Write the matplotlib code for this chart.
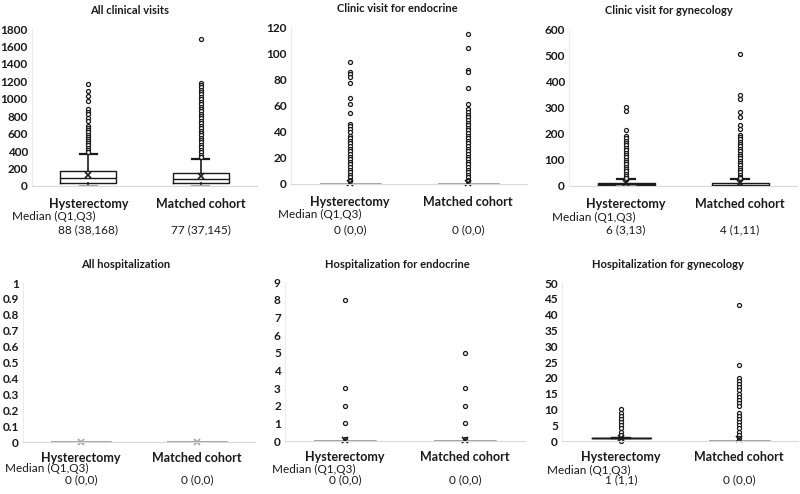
import matplotlib.pyplot as plt
from matplotlib import transforms

plt.rcParams['font.family'] = ['Lato', 'DejaVu Sans']

groups = ["Hysterectomy", "Matched cohort"]
titles = ["All clinical visits", "Clinic visit for endocrine", "Clinic visit for gynecology",
          "All hospitalization", "Hospitalization for endocrine", "Hospitalization for gynecology"]
median_text = [["88 (38,168)", "77 (37,145)"], ["0 (0,0)", "0 (0,0)"], ["6 (3,13)", "4 (1,11)"],
               ["0 (0,0)", "0 (0,0)"], ["0 (0,0)", "0 (0,0)"], ["1 (1,1)", "0 (0,0)"]]

# box statistics per panel: (hysterectomy, matched cohort)
q1 = [(38, 37), (0, 0), (3, 1), (0, 0), (0, 0), (1, 0)]
med = [(88, 77), (0, 0), (6, 4), (0, 0), (0, 0), (1, 0)]
q3 = [(168, 145), (0, 0), (13, 11), (0, 0), (0, 0), (1, 0)]
whislo = [(0, 0), (0, 0), (0, 0), (0, 0), (0, 0), (1, 0)]
whishi = [(363, 306), (0, 0), (28, 27), (0, 0), (0, 0), (1, 0)]
means = [(122, 115), (0.6, 0.6), (12, 11), (0, 0), (0.05, 0.05), (1.1, 0.5)]

fliers_clin_h = [1170, 1090, 1030, 975, 880, 850, 820, 785, 740, 690, 665, 640, 615, 590,
                 565, 540, 515, 490, 465, 440, 415, 390]
fliers_clin_m = [1690, 1180, 1155, 1130, 1105, 1080, 1050, 1020, 995, 965, 940, 910, 885, 855,
                 830, 800, 775, 745, 720, 690, 665, 635, 610, 580, 555, 525, 500, 470, 445,
                 415, 390, 360, 335]
fliers_endo_h = [93, 85.5, 84, 81.5, 77.5, 65.5, 61.5, 54, 46, 44, 42, 40, 37, 35, 33, 31,
                 29, 27, 25, 23, 21, 19, 17, 15, 13, 11, 9, 7, 5, 3, 2]
fliers_endo_m = [115, 104, 87.5, 85.5, 73.5, 61.5, 57, 55, 53, 51, 49, 47, 45, 43, 41, 39,
                 37, 35, 33, 31, 29, 27, 25, 23, 21, 19, 17, 15, 13, 11, 9, 7, 5, 3, 2]
fliers_gyn_h = [300, 288, 214, 191, 182, 173, 164, 155, 146, 137, 128, 119, 110, 101, 92,
                83, 74, 65, 56, 47, 38, 31]
fliers_gyn_m = [505, 349, 333, 281, 263, 233, 218, 196, 187, 178, 169, 160, 151, 142, 133,
                124, 115, 106, 97, 88, 79, 70, 61, 52, 43, 35, 29]
fliers_hosp_h = []
fliers_hosp_m = []
fliers_hendo_h = [8, 3, 2, 1, 0.1]
fliers_hendo_m = [5, 3, 2, 1, 0.1]
fliers_hgyn_h = [10, 9, 8, 7, 6, 5, 4, 3, 2, 0]
fliers_hgyn_m = [43, 24, 20, 19, 18, 17, 16, 15, 14, 13, 12, 11, 9, 8, 7, 6, 5, 4, 3, 2, 1]
fliers = [(fliers_clin_h, fliers_clin_m), (fliers_endo_h, fliers_endo_m),
          (fliers_gyn_h, fliers_gyn_m), (fliers_hosp_h, fliers_hosp_m),
          (fliers_hendo_h, fliers_hendo_m), (fliers_hgyn_h, fliers_hgyn_m)]

ymax = [1800, 120, 600, 1, 9, 50]
ystep = [200, 20, 100, 0.1, 1, 5]

W, H = 800, 494
# axes boxes in pixels: left, top, right, bottom
rects = [(32, 29, 257, 186), (291, 27, 527, 184), (569, 29, 797, 186),
         (23, 283, 255, 442), (285, 282, 525, 441), (562, 283, 798, 441)]
title_xy = [(130, 10), (397, 9), (669, 10), (126, 264), (397, 265), (668, 265)]
median_lbl_x = [12, 278, 552, 5, 272, 547]
cat_pad = [9, 9, 9, 7, 7, 7]
med_y = [(216, 230), (214, 230), (217, 230), (468, 480), (469, 480), (470, 480)]

fig = plt.figure(figsize=(8, 4.94), dpi=100)
dark = '#1a1a1a'
grey = '#a6a6a6'

for i in range(6):
    l, t, r, b = rects[i]
    ax = fig.add_axes([l / W, 1 - b / H, (r - l) / W, (b - t) / H])
    stats = []
    for j in range(2):
        stats.append(dict(med=med[i][j], q1=q1[i][j], q3=q3[i][j], whislo=whislo[i][j],
                          whishi=whishi[i][j], mean=means[i][j], fliers=fliers[i][j]))
    res = ax.bxp(stats, positions=[1, 2], widths=0.5, showmeans=True, capwidths=0.15,
                 boxprops=dict(color=dark, lw=1.0),
                 medianprops=dict(color=dark, lw=1.0),
                 whiskerprops=dict(color=dark, lw=1.2),
                 capprops=dict(color=dark, lw=1.6),
                 meanprops=dict(marker='x', markeredgecolor=dark, markersize=4.5, mew=1.2),
                 flierprops=dict(marker='o', markerfacecolor='white', markeredgecolor=dark,
                                 markersize=2.9, mew=0.9))
    for j in range(2):
        if q3[i][j] == 0:
            for art in (res['boxes'][j], res['medians'][j]):
                art.set_color(grey)
                art.set_linewidth(2)
            for art in res['caps'][2 * j:2 * j + 2] + res['whiskers'][2 * j:2 * j + 2]:
                art.set_visible(False)
            if means[i][j] == 0:
                res['means'][j].set_markeredgecolor(grey)
        else:
            if whislo[i][j] == 0:
                res['caps'][2 * j].set_color(grey)
    ax.set_xlim(0.5, 2.5)
    ax.set_ylim(0, ymax[i])
    n = int(round(ymax[i] / ystep[i]))
    ticks = [k * ystep[i] for k in range(n + 1)]
    ax.set_yticks(ticks)
    ax.set_yticklabels([f"{v:g}" for v in ticks], fontsize=8.5, fontweight='bold', color=dark)
    ax.set_xticks([1, 2])
    ax.set_xticklabels(groups, fontsize=9, fontweight='bold', color=dark)
    ax.tick_params(axis='both', length=0)
    ax.tick_params(axis='x', pad=cat_pad[i])
    ax.tick_params(axis='y', pad=3)
    for s in ('top', 'right'):
        ax.spines[s].set_visible(False)
    ax.spines['left'].set_color('#ececec')
    ax.spines['bottom'].set_color('#d9d9d9')
    ax.spines['left'].set_linewidth(0.8)
    ax.spines['bottom'].set_linewidth(0.8)
    for a in res['fliers']:
        a.set_clip_on(False)
    for a in res['means']:
        a.set_clip_on(False)

    tx, ty = title_xy[i]
    fig.text(tx / W, 1 - ty / H, titles[i], ha='center', va='center', fontsize=8,
             fontweight='bold', color=dark)
    fig.text(median_lbl_x[i] / W, 1 - med_y[i][0] / H, "Median (Q1,Q3)", ha='left',
             va='center', fontsize=8.5, color=dark)
    trans = transforms.blended_transform_factory(ax.transData, fig.transFigure)
    for j in range(2):
        ax.text(j + 1, 1 - med_y[i][1] / H, median_text[i][j], transform=trans,
                ha='center', va='center', fontsize=8.5, color=dark)

fig.savefig('out.png', dpi=100)
